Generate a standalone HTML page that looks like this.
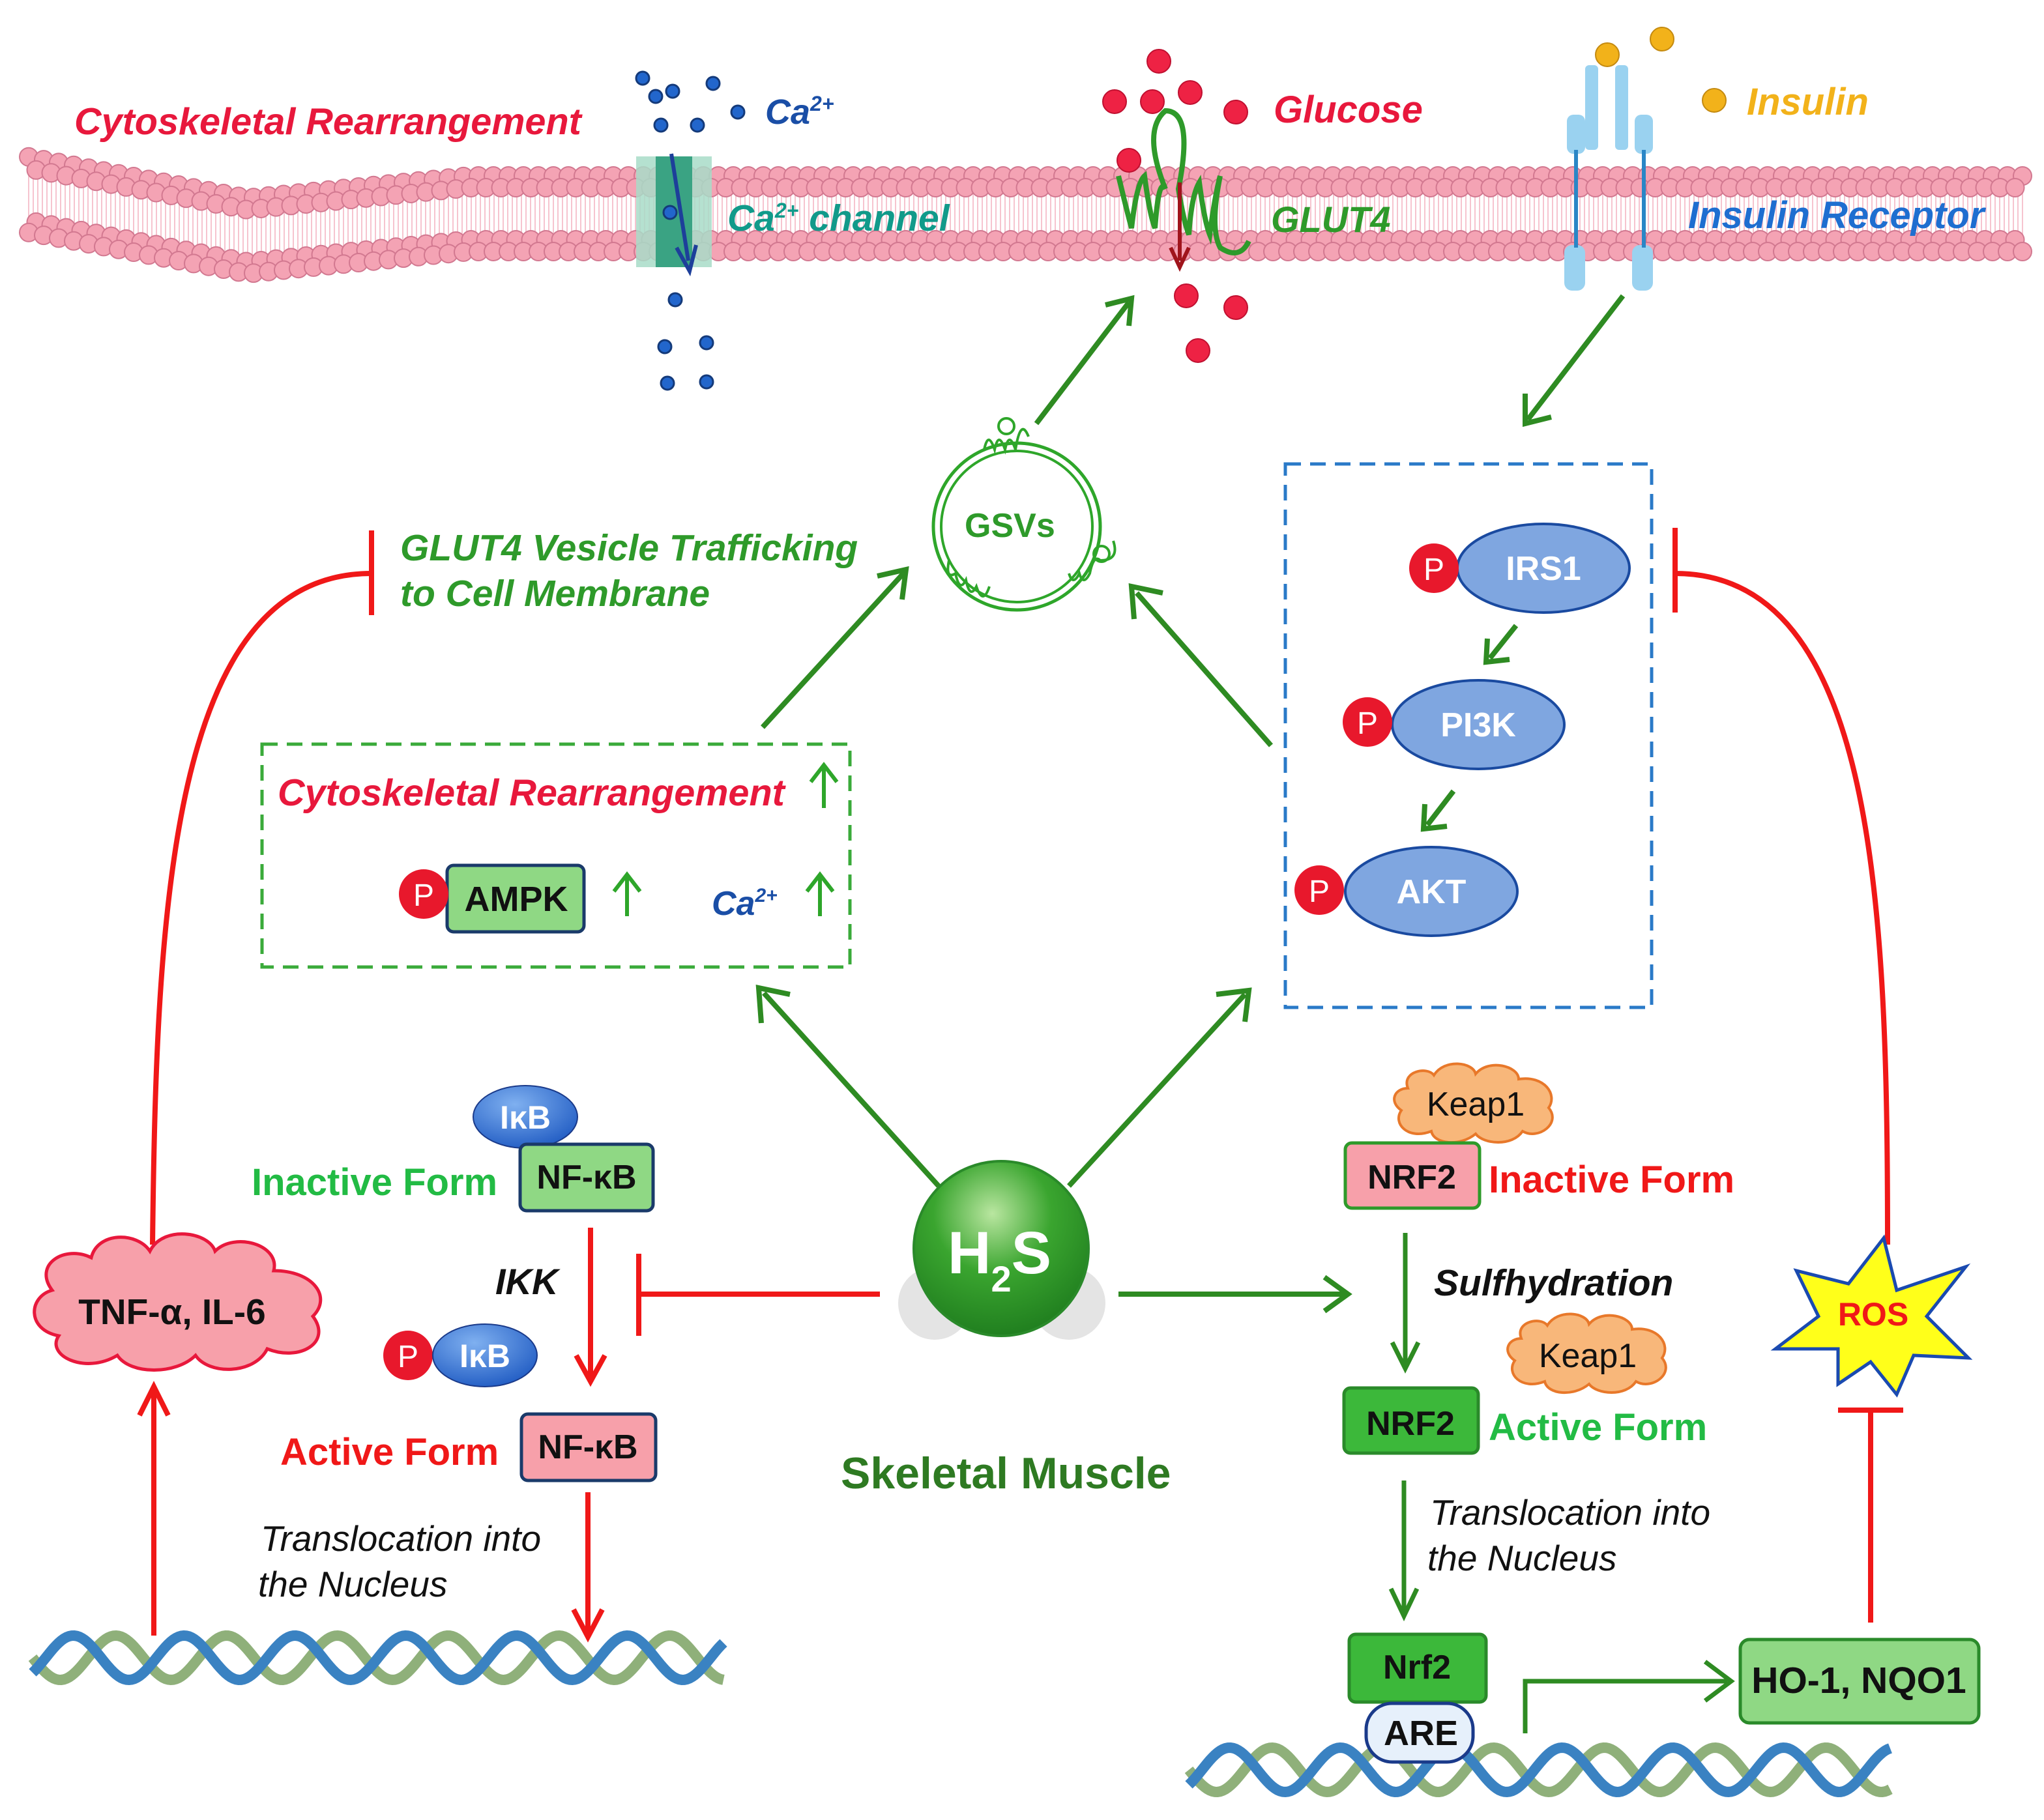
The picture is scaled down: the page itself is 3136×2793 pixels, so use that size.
<!DOCTYPE html>
<html><head><meta charset="utf-8">
<style>
html,body{margin:0;padding:0;background:#fff;}
svg{display:block;}
text{font-family:"Liberation Sans",sans-serif;font-weight:bold;}
.it{font-style:italic;}
</style></head>
<body>
<svg id="s" width="3136" height="2793" viewBox="0 0 1568 1396.5" xmlns="http://www.w3.org/2000/svg">
<defs>
<radialGradient id="h2s" cx="0.45" cy="0.3" r="0.75">
<stop offset="0" stop-color="#b9e6a0"/><stop offset="0.45" stop-color="#3aa52f"/><stop offset="1" stop-color="#1d7a1d"/></radialGradient>
<radialGradient id="blu" cx="0.4" cy="0.3" r="0.8"><stop offset="0" stop-color="#7fb0f0"/><stop offset="1" stop-color="#1a56c0"/></radialGradient>
</defs>
<g id="mem"></g>

<!-- top labels -->
<text x="57" y="103" font-size="28.8" fill="#e8183c" class="it">Cytoskeletal Rearrangement</text>
<!-- Ca channel -->
<rect x="488" y="120" width="58" height="85" fill="#a8dcc8" opacity="0.85"/>
<rect x="503" y="120" width="28" height="85" fill="#3aa383"/>
<line x1="515" y1="118" x2="528" y2="200" stroke="#1d3f9a" stroke-width="3"/>
<path d="M519,190 L529,208 L534,188" fill="none" stroke="#1d3f9a" stroke-width="3"/>
<g fill="#2266cc" stroke="#143a7a" stroke-width="1.5">
<circle cx="493" cy="60" r="5"/><circle cx="516" cy="70" r="5"/><circle cx="547" cy="64" r="5"/><circle cx="503" cy="74" r="5"/><circle cx="566" cy="86" r="5"/><circle cx="507" cy="96" r="5"/><circle cx="535" cy="96" r="5"/><circle cx="514" cy="163" r="5"/>
<circle cx="518" cy="230" r="5"/><circle cx="510" cy="266" r="5"/><circle cx="542" cy="263" r="5"/><circle cx="512" cy="294" r="5"/><circle cx="542" cy="293" r="5"/></g>
<text x="587" y="95" font-size="27" fill="#1a4ea6" class="it">Ca<tspan font-size="16" dy="-10">2+</tspan></text>
<text x="558" y="177" font-size="28.5" fill="#119a8a" class="it">Ca<tspan font-size="16" dy="-10">2+</tspan><tspan dy="10"> channel</tspan></text>
<!-- Glucose -->
<g fill="#ee2244" stroke="#c01030" stroke-width="1"><circle cx="889" cy="47" r="9"/><circle cx="855" cy="78" r="9"/><circle cx="884" cy="78" r="9"/><circle cx="913" cy="71" r="9"/><circle cx="948" cy="86" r="9"/><circle cx="866" cy="123" r="9"/><circle cx="910" cy="227" r="9"/><circle cx="948" cy="236" r="9"/><circle cx="919" cy="269" r="9"/></g>
<text x="977" y="94" font-size="29" fill="#e8183c" class="it">Glucose</text>
<path d="M858,135 q6,25 10,40 q4,-35 10,-40 q4,30 8,40 q3,-40 8,-30 q-18,-45 0,-60 q22,0 10,60 q4,25 8,35 q2,-30 8,-40 q4,30 8,40 q4,-30 8,-45 q-8,40 0,55 q15,10 22,-5" fill="none" stroke="#2e9a2a" stroke-width="4"/>
<line x1="905" y1="140" x2="905" y2="200" stroke="#a0141c" stroke-width="3"/>
<path d="M898,190 L905,205 L912,190" fill="none" stroke="#a0141c" stroke-width="3"/>
<text x="975" y="178" font-size="28" fill="#2e9a2a" class="it">GLUT4</text>
<!-- Insulin receptor -->
<g fill="#9ad2f0"><rect x="1216" y="50" width="10" height="65" rx="3"/><rect x="1239" y="50" width="10" height="65" rx="3"/><rect x="1202" y="88" width="14" height="30" rx="5"/><rect x="1254" y="88" width="14" height="30" rx="5"/><rect x="1200" y="188" width="16" height="35" rx="6"/><rect x="1252" y="188" width="16" height="35" rx="6"/></g>
<line x1="1209" y1="115" x2="1209" y2="190" stroke="#2a86c6" stroke-width="3"/>
<line x1="1261" y1="115" x2="1261" y2="190" stroke="#2a86c6" stroke-width="3"/>
<g fill="#f2b21a" stroke="#c48a10"><circle cx="1233" cy="42" r="9"/><circle cx="1275" cy="30" r="9"/><circle cx="1315" cy="77" r="9"/></g>
<text x="1340" y="88" font-size="29" fill="#f2b21a" class="it">Insulin</text>
<text x="1295" y="175" font-size="29" fill="#1e6ed0" class="it">Insulin Receptor</text>

<!-- green arrows -->
<g stroke="#2e8b22" stroke-width="4" fill="none">
<line x1="795" y1="325" x2="866" y2="232"/><path d="M848,234 L868,229 L866,250"/>
<line x1="1245" y1="227" x2="1172" y2="322"/><path d="M1170,302 L1170,325 L1190,320"/>
<line x1="585" y1="558" x2="693" y2="440"/><path d="M673,442 L695,437 L692,460"/>
<line x1="975" y1="572" x2="872" y2="455"/><path d="M870,475 L868,450 L892,455"/>
<line x1="720" y1="910" x2="586" y2="762"/><path d="M584,785 L582,758 L606,763"/>
<line x1="820" y1="910" x2="955" y2="763"/><path d="M933,763 L958,760 L955,784"/>
<line x1="858" y1="993" x2="1032" y2="993"/><path d="M1016,980 L1034,993 L1016,1006"/>
</g>
<!-- GSVs -->
<circle cx="780" cy="404" r="64" fill="none" stroke="#2ea62a" stroke-width="2.5"/>
<circle cx="780" cy="404" r="58" fill="none" stroke="#2ea62a" stroke-width="2"/>
<g stroke="#2ea62a" stroke-width="2" fill="none">
<path d="M755,345 q3,-15 8,0 q3,-15 8,0 q3,-15 8,0 q4,-25 10,-10"/>
<path d="M728,430 q-3,15 5,10 q3,15 8,5 q3,15 8,5 q5,15 10,0"/>
<path d="M820,440 q3,10 8,0 q3,10 8,0 q3,-15 8,-10 q15,0 10,-15"/>
<circle cx="772" cy="327" r="6"/><circle cx="845" cy="425" r="6"/></g>
<text x="740" y="412" font-size="26" fill="#2e9a2a">GSVs</text>
<text x="307" y="430" font-size="28.5" fill="#2e9a2a" class="it">GLUT4 Vesicle Trafficking</text>
<text x="307" y="465" font-size="28.5" fill="#2e9a2a" class="it">to Cell Membrane</text>

<!-- red inhibitions -->
<g stroke="#f01818" stroke-width="4" fill="none">
<path d="M117,955 C120,700 130,440 285,440"/><line x1="285" y1="407" x2="285" y2="472"/>
<path d="M1448,955 C1448,700 1440,440 1285,440"/><line x1="1285" y1="405" x2="1285" y2="470"/>
<line x1="675" y1="993" x2="492" y2="993"/><line x1="490" y1="962" x2="490" y2="1025"/>
<line x1="453" y1="942" x2="453" y2="1058"/><path d="M442,1040 L453,1060 L464,1040"/>
<line x1="451" y1="1145" x2="451" y2="1253"/><path d="M440,1235 L451,1256 L462,1235"/>
<line x1="118" y1="1255" x2="118" y2="1068"/><path d="M107,1086 L118,1064 L129,1086"/>
<line x1="1435" y1="1245" x2="1435" y2="1083"/><line x1="1410" y1="1082" x2="1460" y2="1082"/>
</g>

<!-- green dashed box -->
<rect x="201" y="571" width="451" height="171" fill="none" stroke="#3aaa3a" stroke-width="2.5" stroke-dasharray="12,7"/>
<text x="213" y="618" font-size="28.8" fill="#e8183c" class="it">Cytoskeletal Rearrangement</text>
<g stroke="#2ea62a" stroke-width="3" fill="none">
<line x1="632" y1="620" x2="632" y2="588"/><path d="M622,600 L632,587 L642,600"/>
<line x1="481" y1="703" x2="481" y2="672"/><path d="M471,684 L481,671 L491,684"/>
<line x1="629" y1="703" x2="629" y2="672"/><path d="M619,684 L629,671 L639,684"/></g>
<rect x="343" y="664" width="105" height="51" rx="5" fill="#8fd884" stroke="#1a3a6a" stroke-width="2.5"/>
<text x="396" y="699" font-size="27" fill="#111" text-anchor="middle">AMPK</text>
<circle cx="325" cy="686" r="19" fill="#e8182c"/><text x="325" y="695" font-size="24" fill="#fff" text-anchor="middle" style="font-weight:normal">P</text>
<text x="546" y="702" font-size="26" fill="#1a4ea6" class="it">Ca<tspan font-size="15" dy="-10">2+</tspan></text>

<!-- blue dashed box -->
<rect x="986" y="356" width="281" height="417" fill="none" stroke="#2a7ac8" stroke-width="2.5" stroke-dasharray="12,7"/>
<g stroke="#1a4aa0" stroke-width="2" fill="#7fa6e0">
<ellipse cx="1184" cy="436" rx="66" ry="34"/><ellipse cx="1134" cy="556" rx="66" ry="34"/><ellipse cx="1098" cy="684" rx="66" ry="34"/></g>
<g font-size="26" fill="#fff" text-anchor="middle"><text x="1184" y="445">IRS1</text><text x="1134" y="565">PI3K</text><text x="1098" y="693">AKT</text></g>
<g fill="#e8182c"><circle cx="1100" cy="436" r="19"/><circle cx="1049" cy="554" r="19"/><circle cx="1012" cy="683" r="19"/></g>
<g font-size="24" fill="#fff" text-anchor="middle"><text x="1100" y="445" style="font-weight:normal">P</text><text x="1049" y="563" style="font-weight:normal">P</text><text x="1012" y="692" style="font-weight:normal">P</text></g>
<g stroke="#2e8b22" stroke-width="4" fill="none">
<line x1="1163" y1="480" x2="1143" y2="505"/><path d="M1141,490 L1140,508 L1158,506"/>
<line x1="1115" y1="607" x2="1095" y2="633"/><path d="M1093,617 L1092,636 L1110,634"/></g>

<!-- H2S -->
<circle cx="717" cy="1000" r="28" fill="#e4e4e4"/><circle cx="820" cy="1000" r="28" fill="#e4e4e4"/>
<circle cx="768" cy="958" r="67" fill="url(#h2s)" stroke="#2a8a2a" stroke-width="2"/>
<text x="727" y="977" font-size="46" fill="#fff">H<tspan font-size="28" dy="14">2</tspan><tspan dy="-14">S</tspan></text>

<!-- NF-kB side -->
<ellipse cx="403" cy="857" rx="40" ry="24" fill="url(#blu)" stroke="#1a3a8a"/>
<text x="403" y="866" font-size="25" fill="#fff" text-anchor="middle">IκB</text>
<rect x="399" y="878" width="102" height="51" rx="5" fill="#8fd884" stroke="#1a3a6a" stroke-width="2.5"/>
<text x="450" y="912" font-size="26" fill="#111" text-anchor="middle">NF-κB</text>
<text x="193" y="917" font-size="29" fill="#22bb44">Inactive Form</text>
<text x="380" y="993" font-size="28" fill="#111" class="it">IKK</text>
<circle cx="313" cy="1040" r="19" fill="#e8182c"/><text x="313" y="1049" font-size="24" fill="#fff" text-anchor="middle" style="font-weight:normal">P</text>
<ellipse cx="372" cy="1040" rx="40" ry="24" fill="url(#blu)" stroke="#1a3a8a"/>
<text x="372" y="1049" font-size="25" fill="#fff" text-anchor="middle">IκB</text>
<rect x="400" y="1085" width="103" height="51" rx="5" fill="#f7a0aa" stroke="#1a3a6a" stroke-width="2.5"/>
<text x="451" y="1119" font-size="26" fill="#111" text-anchor="middle">NF-κB</text>
<text x="215" y="1124" font-size="29" fill="#f01818">Active Form</text>
<text x="200" y="1190" font-size="27.5" fill="#111" class="it" style="font-weight:normal">Translocation into</text>
<text x="198" y="1225" font-size="27.5" fill="#111" class="it" style="font-weight:normal">the Nucleus</text>
<!-- TNF cloud -->
<g fill="#f7a0aa" stroke="#e8183c" stroke-width="2.5">
<path d="M40,990 C25,970 50,955 70,965 C75,945 105,945 115,960 C125,940 160,945 165,960 C180,945 215,955 210,975 C240,975 255,995 240,1010 C255,1030 230,1045 205,1035 C195,1055 160,1055 150,1040 C135,1055 100,1055 90,1040 C65,1055 35,1040 45,1025 C20,1020 22,995 40,990 Z"/></g>
<text x="132" y="1016" font-size="27.5" fill="#111" text-anchor="middle">TNF-α, IL-6</text>
<text x="645" y="1142" font-size="34" fill="#2e7a22">Skeletal Muscle</text>

<!-- NRF2 side -->
<g fill="#f8b77a" stroke="#e8782a" stroke-width="2">
<path d="M1080,835 C1075,822 1095,818 1100,825 C1108,812 1130,815 1132,824 C1142,812 1165,818 1165,828 C1185,825 1195,840 1188,850 C1198,862 1180,875 1168,868 C1160,880 1138,878 1132,870 C1120,880 1100,878 1098,868 C1080,875 1068,862 1075,852 C1065,845 1070,835 1080,835 Z"/>
<path d="M1167,1027 C1162,1014 1182,1010 1187,1017 C1195,1004 1217,1007 1219,1016 C1229,1004 1252,1010 1252,1020 C1272,1017 1282,1032 1275,1042 C1285,1054 1267,1067 1255,1060 C1247,1072 1225,1070 1219,1062 C1207,1072 1187,1070 1185,1060 C1167,1067 1155,1054 1162,1044 C1152,1037 1157,1027 1167,1027 Z"/></g>
<text x="1132" y="856" font-size="26" fill="#111" text-anchor="middle" style="font-weight:normal">Keap1</text>
<text x="1218" y="1049" font-size="26" fill="#111" text-anchor="middle" style="font-weight:normal">Keap1</text>
<rect x="1032" y="877" width="103" height="50" rx="5" fill="#f7a0aa" stroke="#2e9a2a" stroke-width="2.5"/>
<text x="1083" y="912" font-size="26" fill="#111" text-anchor="middle">NRF2</text>
<text x="1142" y="915" font-size="29" fill="#f01818">Inactive Form</text>
<text x="1100" y="994" font-size="28.5" fill="#111" class="it">Sulfhydration</text>
<rect x="1031" y="1065" width="103" height="50" rx="5" fill="#3cb83a" stroke="#2a8a2a" stroke-width="2.5"/>
<text x="1082" y="1101" font-size="26" fill="#111" text-anchor="middle">NRF2</text>
<text x="1142" y="1105" font-size="29" fill="#22bb44">Active Form</text>
<text x="1097" y="1170" font-size="27.5" fill="#111" class="it" style="font-weight:normal">Translocation into</text>
<text x="1095" y="1205" font-size="27.5" fill="#111" class="it" style="font-weight:normal">the Nucleus</text>
<g stroke="#2e8b22" stroke-width="3.5" fill="none">
<line x1="1078" y1="946" x2="1078" y2="1048"/><path d="M1068,1030 L1078,1050 L1088,1030"/>
<line x1="1077" y1="1136" x2="1077" y2="1237"/><path d="M1067,1219 L1077,1240 L1087,1219"/>
<path d="M1170,1330 L1170,1290 L1325,1290"/><path d="M1308,1275 L1328,1290 L1308,1305"/></g>
<g id="dna"></g>
<rect x="1035" y="1254" width="105" height="52" rx="5" fill="#3cb83a" stroke="#2a8a2a" stroke-width="2.5"/>
<text x="1087" y="1288" font-size="26" fill="#111" text-anchor="middle">Nrf2</text>
<rect x="1048" y="1307" width="82" height="45" rx="20" fill="#e6f0fb" stroke="#1a3a8a" stroke-width="2.5"/>
<text x="1090" y="1339" font-size="27" fill="#111" text-anchor="middle">ARE</text>
<rect x="1335" y="1258" width="183" height="64" rx="7" fill="#8fd884" stroke="#2a8a2a" stroke-width="2.5"/>
<text x="1426" y="1299" font-size="28.5" fill="#111" text-anchor="middle">HO-1, NQO1</text>
<!-- ROS -->
<path d="M1445,950 L1455,990 L1508,972 L1478,1010 L1510,1042 L1468,1040 L1455,1070 L1435,1045 L1410,1062 L1410,1035 L1362,1035 L1395,1010 L1378,975 L1418,985 Z" fill="#ffff1a" stroke="#1a4ab0" stroke-width="2.5"/>
<text x="1437" y="1017" font-size="25" fill="#f01818" text-anchor="middle">ROS</text>
</svg>
<script>
var NS="http://www.w3.org/2000/svg";
function el(p,t,a){var e=document.createElementNS(NS,t);for(var k in a)e.setAttribute(k,a[k]);p.appendChild(e);return e;}
var mem=document.getElementById("mem");
function yt(x){if(x<190)return 120+(x-20)/170*32;if(x<360)return 152-(x-190)/170*17;return 135;}
for(var x=22;x<1552;x+=3.5){var y=yt(x);el(mem,"line",{x1:x,y1:y+10,x2:x,y2:y+48,stroke:"#f6c4cf","stroke-width":1});}
function row(off,dy){for(var x=22+off;x<1552;x+=11.5){var y=yt(x)+dy;
el(mem,"circle",{cx:x,cy:y,r:7,fill:"#f4a3b4",stroke:"#d27890","stroke-width":1});}}
row(0,0);row(5.75,9);row(5.75,49);row(0,58);
var dna=document.getElementById("dna");
function helix(x0,x1,yc,amp,per){var d1="",d2="";for(var x=x0;x<=x1;x+=2){var t=(x-x0)/per*2*Math.PI;d1+=(x==x0?"M":"L")+x+","+(yc+amp*Math.sin(t));d2+=(x==x0?"M":"L")+x+","+(yc+amp*Math.sin(t+2.4));}
el(dna,"path",{d:d1,fill:"none",stroke:"#8fb07a","stroke-width":8});el(dna,"path",{d:d2,fill:"none",stroke:"#3a82c2","stroke-width":8});}
helix(25,555,1272,17,85);helix(912,1450,1358,17,85);
</script>
</body></html>
